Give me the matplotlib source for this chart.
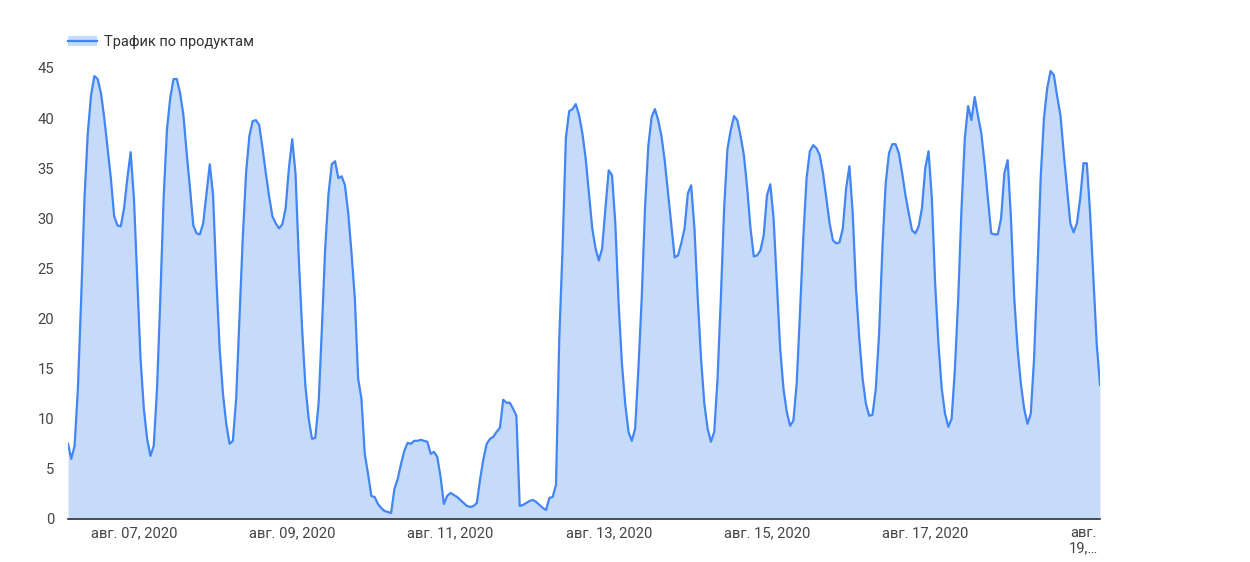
import matplotlib
matplotlib.use("Agg")
import matplotlib.pyplot as plt
from matplotlib.patches import Patch
from matplotlib.lines import Line2D
import pandas as pd

plt.rcParams['font.family'] = ['Roboto', 'DejaVu Sans']

# hourly traffic, starting 2020-08-06 04:00
traffic = [
    7.5, 6, 7.3, 13, 22, 32, 38.5, 42.3, 44.2, 43.9, 42.5, 40, 37, 34, 30.2, 29.3, 29.2, 31, 34, 36.6,
    32, 24, 16, 11, 8, 6.3, 7.3, 13, 22, 32, 38.8, 42, 43.9, 43.9, 42.5, 40.3, 36.5, 33, 29.3, 28.5,
    28.4, 29.5, 32.5, 35.4, 32.3, 24, 17, 12.5, 9.5, 7.5, 7.8, 12, 20, 28, 34.5, 38.2, 39.7, 39.8, 39.3, 37,
    34.5, 32.2, 30.2, 29.5, 29, 29.4, 31, 35, 37.9, 34.5, 26, 19, 13.3, 10, 8, 8.1, 11.5, 19, 27, 32.4,
    35.4, 35.7, 34, 34.2, 33.3, 30.5, 26.5, 22, 14, 12, 6.5, 4.5, 2.3, 2.2, 1.5, 1.1, 0.8, 0.7, 0.6, 3,
    4, 5.5, 6.8, 7.6, 7.5, 7.8, 7.8, 7.9, 7.8, 7.7, 6.5, 6.7, 6.2, 4.2, 1.5, 2.3, 2.6, 2.4, 2.2, 1.9,
    1.6, 1.3, 1.2, 1.3, 1.6, 4, 6, 7.5, 8, 8.2, 8.7, 9.1, 11.9, 11.6, 11.6, 11, 10.3, 1.3, 1.4, 1.6,
    1.8, 1.9, 1.7, 1.4, 1.1, 0.9, 2.1, 2.2, 3.4, 18, 27, 38, 40.7, 40.9, 41.4, 40.3, 38.5, 36, 32.5, 29,
    27, 25.8, 27, 31, 34.8, 34.3, 29.5, 21.5, 15.5, 11.5, 8.7, 7.8, 9, 15, 22, 31, 37.2, 40.1, 40.9, 39.8,
    38.2, 35.7, 32.5, 29.2, 26.1, 26.3, 27.5, 29, 32.5, 33.3, 29, 22, 16, 11.5, 9, 7.7, 8.7, 14, 22, 31,
    36.9, 38.8, 40.2, 39.8, 38.2, 36.3, 33, 29, 26.2, 26.3, 26.8, 28.3, 32.3, 33.4, 30, 23.5, 17, 13, 10.7, 9.3,
    9.8, 13.5, 20.5, 28, 34, 36.7, 37.3, 37, 36.3, 34.5, 32, 29.5, 27.8, 27.5, 27.6, 29, 33, 35.2, 30.5, 23,
    18, 14, 11.5, 10.3, 10.4, 13, 18.5, 27, 33.5, 36.5, 37.4, 37.4, 36.5, 34.5, 32.3, 30.5, 28.8, 28.5, 29.2, 31,
    35, 36.7, 32, 23.5, 17.5, 13, 10.5, 9.2, 10, 15, 22, 31, 38, 41.2, 39.8, 42.1, 40.2, 38.5, 35.5, 32,
    28.5, 28.4, 28.4, 30, 34.5, 35.8, 30, 22, 17, 13.5, 11, 9.5, 10.5, 16, 24.5, 34, 40, 43, 44.7, 44.3,
    42.2, 40.3, 36.5, 33, 29.5, 28.6, 29.5, 32, 35.5, 35.5, 30.5, 24, 17.5, 13.4,
]
hours = pd.date_range("2020-08-06 04:00", periods=len(traffic), freq="h")

tick_days = pd.to_datetime(["2020-08-07", "2020-08-09", "2020-08-11", "2020-08-13",
                            "2020-08-15", "2020-08-17", "2020-08-19"])
tick_labels = ["авг. 07, 2020", "авг. 09, 2020", "авг. 11, 2020", "авг. 13, 2020",
               "авг. 15, 2020", "авг. 17, 2020", "авг.\n19,…"]

line_color = '#4285f4'
fill_color = '#c6dafa'

fig = plt.figure(figsize=(12.5, 5.62), dpi=100)
ax = fig.add_axes([68 / 1250, 43 / 562, 1032 / 1250, 451 / 562])

ax.fill_between(hours, traffic, 0, color=fill_color, linewidth=0)
ax.plot(hours, traffic, color=line_color, linewidth=1.6)

ax.set_xlim(hours[0], hours[-1])
ax.set_ylim(0, 45)
ax.set_yticks(range(0, 46, 5))
ax.set_xticks(tick_days)
ax.set_xticklabels(tick_labels, linespacing=1.1)

for side in ['top', 'right', 'left']:
    ax.spines[side].set_visible(False)
ax.spines['bottom'].set_color('#333333')
ax.spines['bottom'].set_linewidth(1.2)
ax.tick_params(axis='both', length=0, labelsize=10.6, labelcolor='#444444')
ax.tick_params(axis='y', pad=10)
ax.tick_params(axis='x', pad=5)

handle = (Patch(facecolor=fill_color, edgecolor='none'), Line2D([], [], color=line_color, linewidth=1.6))
fig.legend([handle], ["Трафик по продуктам"], loc='upper left', bbox_to_anchor=(55 / 1250, 1 - 22 / 562),
           frameon=False, fontsize=10.5, handlelength=2.0, handletextpad=0.45, labelcolor='#333333')

fig.savefig("out.png", dpi=100)
